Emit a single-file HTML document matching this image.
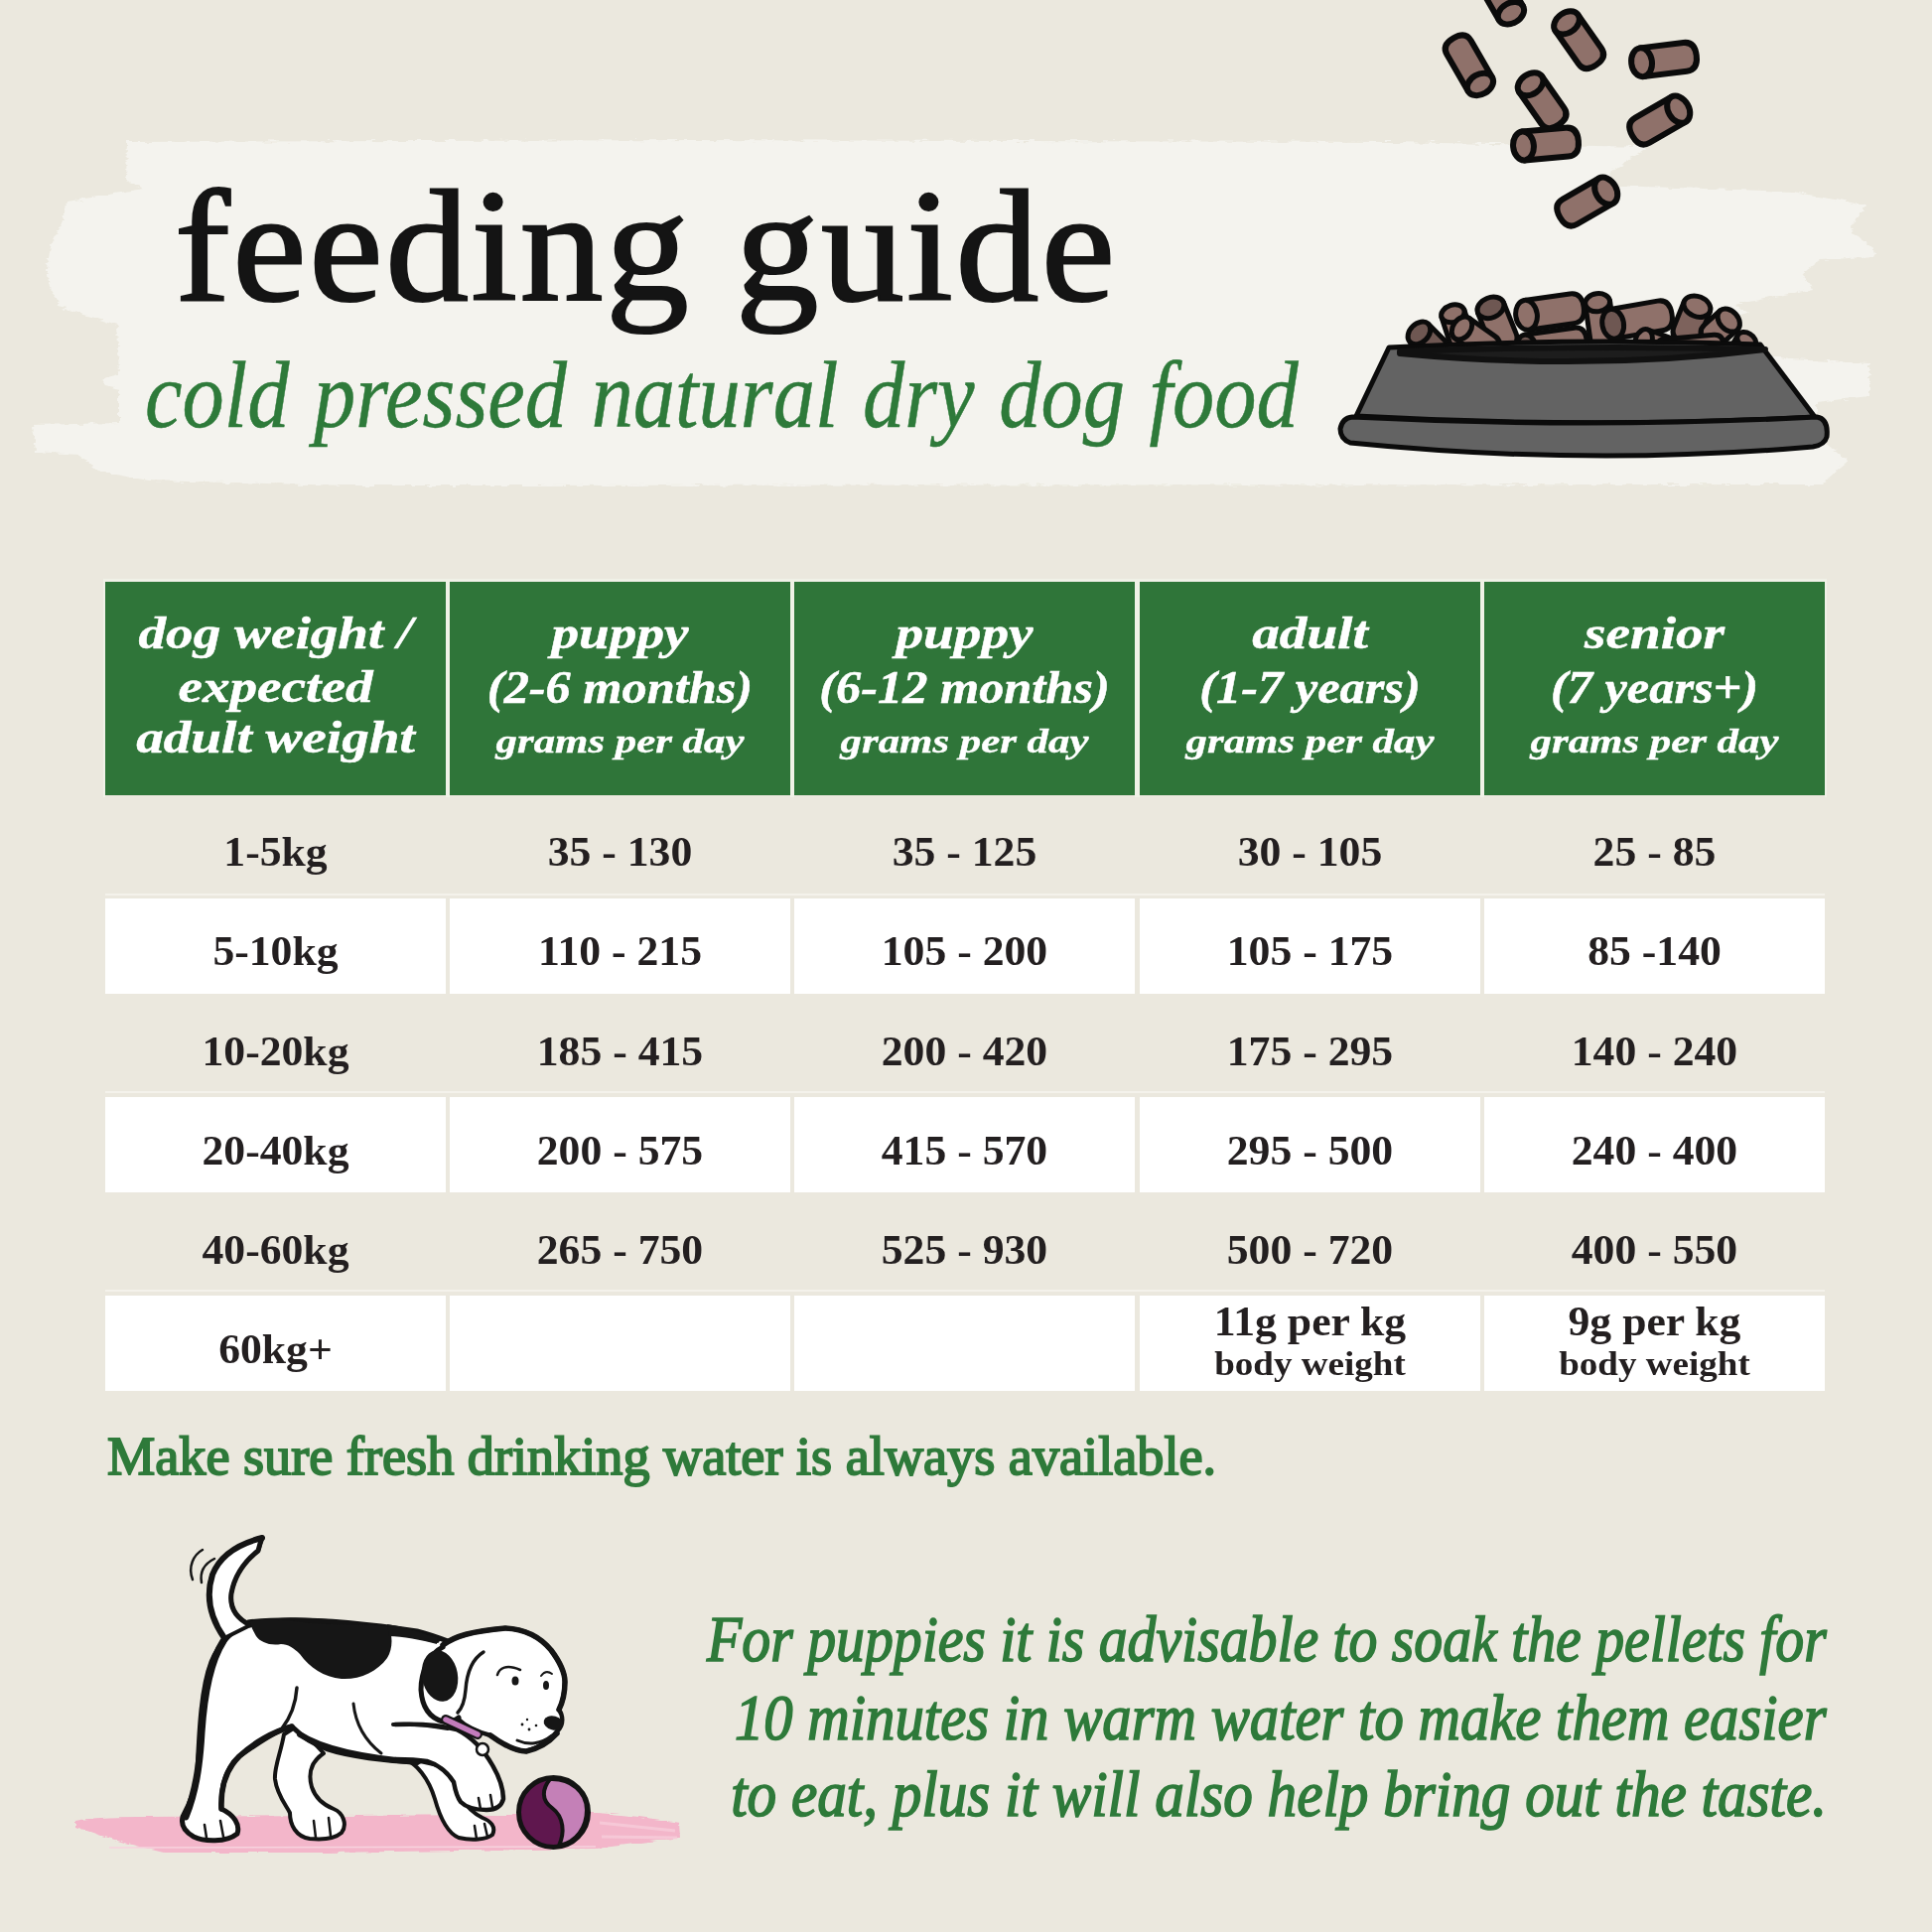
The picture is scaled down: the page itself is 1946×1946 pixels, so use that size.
<!DOCTYPE html>
<html><head><meta charset="utf-8">
<style>
html,body{margin:0;padding:0;}
body{width:1946px;height:1946px;overflow:hidden;background:#ebe8de;position:relative;font-family:"Liberation Serif",serif;}
.abs{position:absolute;white-space:nowrap;}
.bl{position:absolute;white-space:nowrap;line-height:1;margin-top:-0.83em;}
#title{left:176px;top:302px;font-size:161px;color:#141414;transform-origin:0 0;transform:scaleX(1.04);letter-spacing:2.5px;-webkit-text-stroke:2.2px #141414;}
#sub{left:146px;top:430px;font-size:95px;font-style:italic;color:#2e7a3a;transform-origin:0 0;transform:scaleX(0.889);word-spacing:4px;-webkit-text-stroke:0.5px #2e7a3a;}
.cell{position:absolute;width:343px;}
.green{background:#2f7539;}
.beige{background:#ebe8de;}
.white{background:#fff;}
.tx{position:absolute;width:343px;text-align:center;white-space:nowrap;line-height:1;margin-top:-0.83em;}
.hA{font-size:46px;font-weight:bold;font-style:italic;color:#fff;-webkit-text-stroke:0.5px #fff;transform:scaleX(1.2);}
.hP{font-size:46px;font-weight:bold;font-style:italic;color:#fff;-webkit-text-stroke:0.5px #fff;transform:scaleX(1.095);}
.hB{font-size:34px;font-weight:bold;font-style:italic;color:#fff;-webkit-text-stroke:0.4px #fff;transform:scaleX(1.26);}
.rT{font-size:42px;font-weight:bold;color:#231f20;transform:scaleX(1.04);}
.rS{font-size:34px;font-weight:bold;color:#231f20;transform:scaleX(1.09);}
#water{left:108px;top:1485px;font-size:54px;color:#2e7a3a;font-weight:normal;-webkit-text-stroke:1.9px #2e7a3a;transform-origin:0 0;transform:scaleX(1.004);}
.para{position:absolute;right:106px;font-size:66px;font-style:italic;font-weight:normal;-webkit-text-stroke:1.7px #2e7a3a;color:#2e7a3a;line-height:1;margin-top:-0.83em;white-space:nowrap;transform-origin:100% 0;transform:scaleX(0.89);}
</style></head>
<body>
<!-- brush stroke -->
<svg class="abs" style="left:0;top:0" width="1946" height="520" viewBox="0 0 1946 520">
<defs><filter id="rgh" x="-2%" y="-5%" width="104%" height="110%"><feTurbulence type="fractalNoise" baseFrequency="0.08 0.35" numOctaves="2" seed="7" result="n"/><feDisplacementMap in="SourceGraphic" in2="n" scale="7" xChannelSelector="R" yChannelSelector="G"/></filter></defs>
<path filter="url(#rgh)" fill="#f4f3ee" d="M128,145 L128,143 L700,141 L1400,143 L1659,148 L1620,175 L1625,187 L1806,193 L1879,207 L1864,228 L1866,234 L1885,248 L1889,258 L1834,262 L1816,275 L1826,291 L1787,299 L1748,307 L1761,315 L1700,340 L1803,362 L1883,366 L1883,399 L1830,405 L1830,440 L1862,464 L1852,472 L1835,488 L350,489 L150,484 L100,475 L80,458 L36,455 L33,428 L120,426 L120,392 L106,389 L104,381 L120,377 L118,327 L62,310 L50,290 L47,270 L52,244 L62,225 L68,203 L145,190 L127,182 Z"/>
</svg>

<div id="title" class="bl">feeding guide</div>
<div id="sub" class="bl">cold pressed natural dry dog food</div>

<!-- bowl -->
<svg class="abs" style="left:0;top:0" width="1946" height="520" viewBox="0 0 1946 520">
<g transform="translate(1512,-4) rotate(60) scale(-1,1)"><path d="M-19.9,-14.0 L18.8,-14.0 Q30.0,-14.0 30.0,0 Q30.0,14.0 18.8,14.0 L-19.9,14.0 Z" fill="#8f716a" stroke="#0b0b0b" stroke-width="6" stroke-linejoin="round"/><ellipse cx="-19.9" cy="0" rx="10.1" ry="14.0" fill="#8f716a" stroke="#0b0b0b" stroke-width="6"/></g>
<g transform="translate(1480,66) rotate(60) scale(-1,1)"><path d="M-21.9,-14.0 L20.8,-14.0 Q32.0,-14.0 32.0,0 Q32.0,14.0 20.8,14.0 L-21.9,14.0 Z" fill="#8f716a" stroke="#0b0b0b" stroke-width="6" stroke-linejoin="round"/><ellipse cx="-21.9" cy="0" rx="10.1" ry="14.0" fill="#8f716a" stroke="#0b0b0b" stroke-width="6"/></g>
<g transform="translate(1590,40) rotate(55)"><path d="M-20.9,-14.0 L19.8,-14.0 Q31.0,-14.0 31.0,0 Q31.0,14.0 19.8,14.0 L-20.9,14.0 Z" fill="#8f716a" stroke="#0b0b0b" stroke-width="6" stroke-linejoin="round"/><ellipse cx="-20.9" cy="0" rx="10.1" ry="14.0" fill="#8f716a" stroke="#0b0b0b" stroke-width="6"/></g>
<g transform="translate(1676,60) rotate(-7)"><path d="M-22.6,-14.5 L21.4,-14.5 Q33.0,-14.5 33.0,0 Q33.0,14.5 21.4,14.5 L-22.6,14.5 Z" fill="#8f716a" stroke="#0b0b0b" stroke-width="6" stroke-linejoin="round"/><ellipse cx="-22.6" cy="0" rx="10.4" ry="14.5" fill="#8f716a" stroke="#0b0b0b" stroke-width="6"/></g>
<g transform="translate(1553,101) rotate(55)"><path d="M-19.9,-14.0 L18.8,-14.0 Q30.0,-14.0 30.0,0 Q30.0,14.0 18.8,14.0 L-19.9,14.0 Z" fill="#8f716a" stroke="#0b0b0b" stroke-width="6" stroke-linejoin="round"/><ellipse cx="-19.9" cy="0" rx="10.1" ry="14.0" fill="#8f716a" stroke="#0b0b0b" stroke-width="6"/></g>
<g transform="translate(1557,145) rotate(-5)"><path d="M-22.6,-14.5 L21.4,-14.5 Q33.0,-14.5 33.0,0 Q33.0,14.5 21.4,14.5 L-22.6,14.5 Z" fill="#8f716a" stroke="#0b0b0b" stroke-width="6" stroke-linejoin="round"/><ellipse cx="-22.6" cy="0" rx="10.4" ry="14.5" fill="#8f716a" stroke="#0b0b0b" stroke-width="6"/></g>
<g transform="translate(1672,121) rotate(-30) scale(-1,1)"><path d="M-21.6,-14.5 L20.4,-14.5 Q32.0,-14.5 32.0,0 Q32.0,14.5 20.4,14.5 L-21.6,14.5 Z" fill="#8f716a" stroke="#0b0b0b" stroke-width="6" stroke-linejoin="round"/><ellipse cx="-21.6" cy="0" rx="10.4" ry="14.5" fill="#8f716a" stroke="#0b0b0b" stroke-width="6"/></g>
<g transform="translate(1599,203) rotate(-30) scale(-1,1)"><path d="M-21.6,-14.5 L20.4,-14.5 Q32.0,-14.5 32.0,0 Q32.0,14.5 20.4,14.5 L-21.6,14.5 Z" fill="#8f716a" stroke="#0b0b0b" stroke-width="6" stroke-linejoin="round"/><ellipse cx="-21.6" cy="0" rx="10.4" ry="14.5" fill="#8f716a" stroke="#0b0b0b" stroke-width="6"/></g>
<g>
<g transform="translate(1612,325) rotate(82)"><path d="M-20.5,-12.5 L19.5,-12.5 Q29.5,-12.5 29.5,0 Q29.5,12.5 19.5,12.5 L-20.5,12.5 Z" fill="#8f716a" stroke="#0b0b0b" stroke-width="5" stroke-linejoin="round"/><ellipse cx="-20.5" cy="0" rx="9.0" ry="12.5" fill="#8f716a" stroke="#0b0b0b" stroke-width="5"/></g>
<g transform="translate(1561,314) rotate(-8)"><path d="M-23.7,-15.0 L22.5,-15.0 Q34.5,-15.0 34.5,0 Q34.5,15.0 22.5,15.0 L-23.7,15.0 Z" fill="#8f716a" stroke="#0b0b0b" stroke-width="5" stroke-linejoin="round"/><ellipse cx="-23.7" cy="0" rx="10.8" ry="15.0" fill="#8f716a" stroke="#0b0b0b" stroke-width="5"/></g>
<g transform="translate(1649,322) rotate(-10)"><path d="M-24.7,-15.0 L23.5,-15.0 Q35.5,-15.0 35.5,0 Q35.5,15.0 23.5,15.0 L-24.7,15.0 Z" fill="#8f716a" stroke="#0b0b0b" stroke-width="5" stroke-linejoin="round"/><ellipse cx="-24.7" cy="0" rx="10.8" ry="15.0" fill="#6e5752" stroke="#0b0b0b" stroke-width="5"/></g>
<g transform="translate(1508,326) rotate(68)"><path d="M-17.4,-14.0 L16.3,-14.0 Q27.5,-14.0 27.5,0 Q27.5,14.0 16.3,14.0 L-17.4,14.0 Z" fill="#8f716a" stroke="#0b0b0b" stroke-width="5" stroke-linejoin="round"/><ellipse cx="-17.4" cy="0" rx="10.1" ry="14.0" fill="#6e5752" stroke="#0b0b0b" stroke-width="5"/></g>
<g transform="translate(1704,322) rotate(112)"><path d="M-14.4,-14.0 L13.3,-14.0 Q24.5,-14.0 24.5,0 Q24.5,14.0 13.3,14.0 L-14.4,14.0 Z" fill="#7d625c" stroke="#0b0b0b" stroke-width="5" stroke-linejoin="round"/><ellipse cx="-14.4" cy="0" rx="10.1" ry="14.0" fill="#8f716a" stroke="#0b0b0b" stroke-width="5"/></g>
<g transform="translate(1468,330) rotate(72)"><path d="M-14.9,-12.0 L13.9,-12.0 Q23.5,-12.0 23.5,0 Q23.5,12.0 13.9,12.0 L-14.9,12.0 Z" fill="#8f716a" stroke="#0b0b0b" stroke-width="5" stroke-linejoin="round"/><ellipse cx="-14.9" cy="0" rx="8.6" ry="12.0" fill="#8f716a" stroke="#0b0b0b" stroke-width="5"/></g>
<g transform="translate(1733,330) rotate(138)"><path d="M-11.1,-13.0 L10.1,-13.0 Q20.5,-13.0 20.5,0 Q20.5,13.0 10.1,13.0 L-11.1,13.0 Z" fill="#8f716a" stroke="#0b0b0b" stroke-width="5" stroke-linejoin="round"/><ellipse cx="-11.1" cy="0" rx="9.4" ry="13.0" fill="#8f716a" stroke="#0b0b0b" stroke-width="5"/></g>
<g transform="translate(1438,344) rotate(45)"><path d="M-12.1,-13.0 L11.1,-13.0 Q21.5,-13.0 21.5,0 Q21.5,13.0 11.1,13.0 L-12.1,13.0 Z" fill="#6e5752" stroke="#0b0b0b" stroke-width="5" stroke-linejoin="round"/><ellipse cx="-12.1" cy="0" rx="9.4" ry="13.0" fill="#6e5752" stroke="#0b0b0b" stroke-width="5"/></g>
<g transform="translate(1486,340) rotate(35)"><path d="M-16.5,-12.5 L15.5,-12.5 Q25.5,-12.5 25.5,0 Q25.5,12.5 15.5,12.5 L-16.5,12.5 Z" fill="#8f716a" stroke="#0b0b0b" stroke-width="5" stroke-linejoin="round"/><ellipse cx="-16.5" cy="0" rx="9.0" ry="12.5" fill="#8f716a" stroke="#0b0b0b" stroke-width="5"/></g>
<g transform="translate(1563,347) rotate(-8)"><path d="M-25.8,-13.5 L24.7,-13.5 Q35.5,-13.5 35.5,0 Q35.5,13.5 24.7,13.5 L-25.8,13.5 Z" fill="#8f716a" stroke="#0b0b0b" stroke-width="5" stroke-linejoin="round"/><ellipse cx="-25.8" cy="0" rx="9.7" ry="13.5" fill="#6e5752" stroke="#0b0b0b" stroke-width="5"/></g>
<g transform="translate(1670,348) rotate(20)"><path d="M-15.2,-11.5 L14.3,-11.5 Q23.5,-11.5 23.5,0 Q23.5,11.5 14.3,11.5 L-15.2,11.5 Z" fill="#8f716a" stroke="#0b0b0b" stroke-width="5" stroke-linejoin="round"/><ellipse cx="-15.2" cy="0" rx="8.3" ry="11.5" fill="#8f716a" stroke="#0b0b0b" stroke-width="5"/></g>
<g transform="translate(1702,351) rotate(-5)"><path d="M-26.2,-11.5 L25.3,-11.5 Q34.5,-11.5 34.5,0 Q34.5,11.5 25.3,11.5 L-26.2,11.5 Z" fill="#8f716a" stroke="#0b0b0b" stroke-width="5" stroke-linejoin="round"/><ellipse cx="-26.2" cy="0" rx="8.3" ry="11.5" fill="#8f716a" stroke="#0b0b0b" stroke-width="5"/></g>
<g transform="translate(1756,348) rotate(120)"><path d="M-6.3,-10.0 L5.5,-10.0 Q13.5,-10.0 13.5,0 Q13.5,10.0 5.5,10.0 L-6.3,10.0 Z" fill="#8f716a" stroke="#0b0b0b" stroke-width="5" stroke-linejoin="round"/><ellipse cx="-6.3" cy="0" rx="7.2" ry="10.0" fill="#8f716a" stroke="#0b0b0b" stroke-width="5"/></g>
</g>
<path d="M1399,350 Q1590,340 1773,347 L1828,420 Q1600,432 1366,419 Z" fill="#636363" stroke="#0b0b0b" stroke-width="5" stroke-linejoin="round"/>
<path d="M1410,354 Q1600,347 1778,352 Q1600,374 1410,356 Z" fill="#1d1d1d" stroke="#111" stroke-width="6" stroke-linejoin="round"/>
<path d="M1362,420 Q1600,432 1830,420 Q1842,422 1840,440 Q1838,448 1826,450 Q1600,470 1360,446 Q1350,442 1350,432 Q1352,421 1362,420 Z" fill="#636363" stroke="#0b0b0b" stroke-width="5" stroke-linejoin="round"/>
</svg>

<div style="position:absolute;left:104px;top:583px;width:1736px;height:220px;background:#f0f1e7"></div>
<!-- table cells -->
<div class="cell green" style="left:106px;top:586px;height:215px"></div>
<div class="cell green" style="left:453px;top:586px;height:215px"></div>
<div class="cell green" style="left:800px;top:586px;height:215px"></div>
<div class="cell green" style="left:1148px;top:586px;height:215px"></div>
<div class="cell green" style="left:1495px;top:586px;height:215px"></div>
<div class="cell beige" style="left:106px;top:801px;height:104px"></div>
<div class="cell beige" style="left:453px;top:801px;height:104px"></div>
<div class="cell beige" style="left:800px;top:801px;height:104px"></div>
<div class="cell beige" style="left:1148px;top:801px;height:104px"></div>
<div class="cell beige" style="left:1495px;top:801px;height:104px"></div>
<div class="cell white" style="left:106px;top:905px;height:96px"></div>
<div class="cell white" style="left:453px;top:905px;height:96px"></div>
<div class="cell white" style="left:800px;top:905px;height:96px"></div>
<div class="cell white" style="left:1148px;top:905px;height:96px"></div>
<div class="cell white" style="left:1495px;top:905px;height:96px"></div>
<div class="cell beige" style="left:106px;top:1001px;height:104px"></div>
<div class="cell beige" style="left:453px;top:1001px;height:104px"></div>
<div class="cell beige" style="left:800px;top:1001px;height:104px"></div>
<div class="cell beige" style="left:1148px;top:1001px;height:104px"></div>
<div class="cell beige" style="left:1495px;top:1001px;height:104px"></div>
<div class="cell white" style="left:106px;top:1105px;height:96px"></div>
<div class="cell white" style="left:453px;top:1105px;height:96px"></div>
<div class="cell white" style="left:800px;top:1105px;height:96px"></div>
<div class="cell white" style="left:1148px;top:1105px;height:96px"></div>
<div class="cell white" style="left:1495px;top:1105px;height:96px"></div>
<div class="cell beige" style="left:106px;top:1201px;height:104px"></div>
<div class="cell beige" style="left:453px;top:1201px;height:104px"></div>
<div class="cell beige" style="left:800px;top:1201px;height:104px"></div>
<div class="cell beige" style="left:1148px;top:1201px;height:104px"></div>
<div class="cell beige" style="left:1495px;top:1201px;height:104px"></div>
<div class="cell white" style="left:106px;top:1305px;height:96px"></div>
<div class="cell white" style="left:453px;top:1305px;height:96px"></div>
<div class="cell white" style="left:800px;top:1305px;height:96px"></div>
<div class="cell white" style="left:1148px;top:1305px;height:96px"></div>
<div class="cell white" style="left:1495px;top:1305px;height:96px"></div>
<!-- header text -->
<div class="tx hA" style="left:106px;top:653.4px">dog weight /</div>
<div class="tx hA" style="left:106px;top:706.8px">expected</div>
<div class="tx hA" style="left:106px;top:758.5px">adult weight</div>
<div class="tx hA" style="left:453px;top:653.4px">puppy</div>
<div class="tx hP" style="left:453px;top:708.6px">(2-6 months)</div>
<div class="tx hB" style="left:453px;top:758.5px">grams per day</div>
<div class="tx hA" style="left:800px;top:653.4px">puppy</div>
<div class="tx hP" style="left:800px;top:708.6px">(6-12 months)</div>
<div class="tx hB" style="left:800px;top:758.5px">grams per day</div>
<div class="tx hA" style="left:1148px;top:653.4px">adult</div>
<div class="tx hP" style="left:1148px;top:708.6px">(1-7 years)</div>
<div class="tx hB" style="left:1148px;top:758.5px">grams per day</div>
<div class="tx hA" style="left:1495px;top:653.4px">senior</div>
<div class="tx hP" style="left:1495px;top:708.6px">(7 years+)</div>
<div class="tx hB" style="left:1495px;top:758.5px">grams per day</div>
<!-- row text -->
<div class="tx rT" style="left:106px;top:872px">1-5kg</div>
<div class="tx rT" style="left:453px;top:872px">35 - 130</div>
<div class="tx rT" style="left:800px;top:872px">35 - 125</div>
<div class="tx rT" style="left:1148px;top:872px">30 - 105</div>
<div class="tx rT" style="left:1495px;top:872px">25 - 85</div>
<div class="tx rT" style="left:106px;top:972px">5-10kg</div>
<div class="tx rT" style="left:453px;top:972px">110 - 215</div>
<div class="tx rT" style="left:800px;top:972px">105 - 200</div>
<div class="tx rT" style="left:1148px;top:972px">105 - 175</div>
<div class="tx rT" style="left:1495px;top:972px">85 -140</div>
<div class="tx rT" style="left:106px;top:1073px">10-20kg</div>
<div class="tx rT" style="left:453px;top:1073px">185 - 415</div>
<div class="tx rT" style="left:800px;top:1073px">200 - 420</div>
<div class="tx rT" style="left:1148px;top:1073px">175 - 295</div>
<div class="tx rT" style="left:1495px;top:1073px">140 - 240</div>
<div class="tx rT" style="left:106px;top:1173px">20-40kg</div>
<div class="tx rT" style="left:453px;top:1173px">200 - 575</div>
<div class="tx rT" style="left:800px;top:1173px">415 - 570</div>
<div class="tx rT" style="left:1148px;top:1173px">295 - 500</div>
<div class="tx rT" style="left:1495px;top:1173px">240 - 400</div>
<div class="tx rT" style="left:106px;top:1273px">40-60kg</div>
<div class="tx rT" style="left:453px;top:1273px">265 - 750</div>
<div class="tx rT" style="left:800px;top:1273px">525 - 930</div>
<div class="tx rT" style="left:1148px;top:1273px">500 - 720</div>
<div class="tx rT" style="left:1495px;top:1273px">400 - 550</div>
<div class="tx rT" style="left:106px;top:1373px">60kg+</div>
<div class="tx rT" style="left:1148px;top:1345px">11g per kg</div>
<div class="tx rS" style="left:1148px;top:1385.5px">body weight</div>
<div class="tx rT" style="left:1495px;top:1345px">9g per kg</div>
<div class="tx rS" style="left:1495px;top:1385.5px">body weight</div>
<div style="position:absolute;left:106px;top:900px;width:1732px;height:2px;background:#f4f2eb"></div>

<div style="position:absolute;left:106px;top:1099px;width:1732px;height:2px;background:#f4f2eb"></div>

<div style="position:absolute;left:106px;top:1299px;width:1732px;height:2px;background:#f4f2eb"></div>

<svg class="abs" style="left:0;top:1500px" width="760" height="446" viewBox="0 1500 760 446">
<defs><filter id="rgh2" x="-2%" y="-20%" width="104%" height="140%"><feTurbulence type="fractalNoise" baseFrequency="0.05 0.4" numOctaves="2" seed="11" result="n"/><feDisplacementMap in="SourceGraphic" in2="n" scale="5" xChannelSelector="R" yChannelSelector="G"/></filter></defs>
<!-- pink brush -->
<path filter="url(#rgh2)" fill="#f3b6ca" d="M76,1834 Q95,1830 140,1830 L512,1828 L600,1826 Q645,1829 684,1836 L685,1851 Q640,1857 600,1862 L330,1866 L165,1866 Q120,1856 76,1840 Z"/>
<path fill="none" stroke="#f7d3de" stroke-width="1.5" d="M110,1861 L600,1860"/>
<path fill="none" stroke="#f6cdda" stroke-width="3" opacity="0.8" d="M604,1836 L680,1844 M606,1850 L682,1851"/>
<g stroke="#131313" stroke-linecap="round" stroke-linejoin="round" fill="#fff">
<!-- far rear leg -->
<path stroke-width="4" d="M300,1738 L286,1747 C283,1765 276,1780 277,1792 C279,1808 288,1818 292,1826 C292,1838 298,1850 312,1852 C322,1853 336,1853 344,1846 C350,1838 346,1826 336,1822 C326,1818 318,1812 314,1800 C310,1786 314,1774 326,1766 Z"/>
<!-- far front leg -->
<path stroke-width="4" d="M405,1770 C420,1776 432,1792 438,1812 C443,1830 450,1846 462,1851 C475,1854 490,1853 496,1848 C500,1840 494,1834 486,1831 C476,1826 470,1820 464,1810 L450,1780 Z"/>
<!-- torso with near rear leg -->
<path stroke-width="5" d="M250,1634 C300,1628 360,1634 420,1643 C440,1648 455,1655 470,1660 L472,1740 C450,1760 430,1772 420,1775 C390,1774 351,1769 330,1762 C312,1756 300,1745 294,1739 C280,1742 262,1754 241,1769 C228,1780 222,1800 223,1822 C236,1828 242,1838 239,1847 C228,1856 205,1855 195,1850 C186,1845 182,1838 184,1830 C192,1815 198,1800 199,1785 C201,1740 203,1700 213,1674 C220,1656 236,1640 250,1634 Z"/>
<!-- tail -->
<path stroke-width="4" d="M226,1650 C212,1630 206,1608 214,1585 C222,1566 242,1555 264,1549 C262,1554 262,1557 260,1562 C246,1573 236,1588 233,1605 C231,1620 238,1630 252,1637 Z"/>
<!-- raised front leg -->
<path stroke="none" d="M398,1737 C420,1736 445,1738 460,1742 C476,1750 488,1764 496,1778 C503,1790 507,1802 507,1812 C505,1820 498,1823 490,1823 C480,1823 470,1821 464,1815 C459,1808 458,1800 457,1795 C450,1784 440,1777 430,1774 C418,1772 405,1772 398,1772 Z"/><path fill="none" stroke-width="4.5" d="M398,1737 C420,1736 445,1738 460,1742 C476,1750 488,1764 496,1778 C503,1790 507,1802 507,1812 C505,1820 498,1823 490,1823 C480,1823 470,1821 464,1815 C459,1808 458,1800 457,1795 C450,1784 440,1777 430,1774 C418,1772 405,1772 398,1772"/>
<!-- head -->
<path stroke-width="4.5" d="M446,1657 C458,1648 475,1643 509,1640 C530,1641 545,1650 555,1662 C564,1674 569,1684 569,1694 C569,1705 567,1714 563,1722 C567,1728 568,1736 562,1743 C555,1752 548,1758 530,1764 C518,1764 505,1756 494,1748 C480,1744 470,1740 462,1732 C450,1715 444,1690 446,1657 Z"/>
<!-- ear flap -->
<path stroke="none" d="M440,1662 C430,1670 424,1686 425,1700 C426,1716 432,1730 446,1733 C458,1735 466,1726 470,1712 C473,1698 470,1680 462,1668 C456,1660 448,1658 440,1662 Z"/><path fill="none" stroke-width="5" d="M446,1659 C432,1666 424,1684 424,1702 C425,1718 432,1730 446,1734 C452,1735 458,1733 462,1730"/>
</g>
<g fill="none" stroke="#141414" stroke-linecap="round" stroke-linejoin="round">
<path d="M225,1653 C214,1670 206,1700 203,1745 C201,1780 197,1805 187,1830" stroke-width="7"/>
<path d="M294,1739 C275,1744 255,1756 241,1769 C228,1782 222,1800 223,1822" stroke-width="5.5"/>
<path d="M302,1747 C322,1760 360,1770 420,1775" stroke-width="6"/>
<path d="M252,1636 C300,1628 360,1634 440,1652" stroke-width="6"/>
<path d="M206,1838 L208,1851 M222,1834 L225,1850 M316,1834 L318,1851 M331,1831 L333,1849 M478,1839 L480,1852 M488,1837 L491,1850 M482,1811 L484,1822 M494,1808 L496,1820" stroke-width="2.5"/>
<path d="M226,1650 C212,1630 207,1608 214,1586 C222,1566 240,1555 264,1549" stroke-width="6"/>
<path d="M264,1549 C262,1554 261,1558 260,1562 C246,1573 236,1588 233,1605 C231,1620 238,1630 252,1637" stroke-width="5"/>
<path d="M446,1657 C458,1648 475,1643 509,1640 C530,1641 545,1650 555,1662 C564,1674 569,1684 569,1694 C569,1705 567,1714 563,1722" stroke-width="5.5"/>
<path d="M561,1746 C552,1756 540,1762 530,1764 C518,1764 505,1756 494,1748" stroke-width="5.5"/>
</g>
<!-- black patches -->
<g fill="#161616">
<path d="M252,1633 C270,1628 290,1632 312,1635 C340,1637 370,1636 390,1638 C396,1645 396,1660 390,1670 C380,1684 362,1692 344,1691 C326,1689 312,1680 302,1666 C296,1660 290,1656 283,1656 C272,1658 262,1654 258,1648 C255,1642 252,1638 252,1633 Z"/>
<path d="M390,1636 C405,1638 420,1643 440,1650 L440,1656 C425,1652 405,1648 392,1648 Z"/>
<ellipse cx="443" cy="1688" rx="18" ry="26" transform="rotate(-10 443 1688)"/>
<ellipse cx="557.5" cy="1735.5" rx="10" ry="7" transform="rotate(15 557.5 1735.5)"/>
<ellipse cx="519" cy="1693" rx="3.5" ry="4.5"/>
<ellipse cx="550" cy="1697.5" rx="3" ry="4.5"/>
</g>
<g fill="none" stroke="#161616" stroke-linecap="round">
<path d="M501,1687 C503,1680 510,1676 524,1682" stroke-width="2.5"/>
<path d="M545,1688 C548,1684 552,1683 556,1686" stroke-width="2"/>
<path d="M521,1753 C532,1758 545,1757 556,1748" stroke-width="3"/>
<path d="M487,1664 C474,1672 470,1688 469,1702 C468,1714 466,1720 461,1725" stroke-width="3.5"/>
<path d="M194,1591 C189,1578 195,1566 204,1561" stroke-width="2.5"/>
<path d="M203,1594 C201,1583 206,1575 216,1570" stroke-width="2.5"/>
<path d="M299,1700 C298,1715 294,1728 284,1741" stroke-width="3.5"/>
<path d="M356,1716 C358,1735 366,1752 384,1766" stroke-width="3"/>
<path d="M396,1737 C415,1736 435,1738 451,1741" stroke-width="4"/>
</g>
<g fill="#161616"><circle cx="526" cy="1737" r="1.4"/><circle cx="533" cy="1742" r="1.4"/><circle cx="540" cy="1738" r="1.3"/><circle cx="531" cy="1732" r="1.2"/></g>
<!-- collar -->
<path d="M449,1732 L481,1747" stroke="#131313" stroke-width="10" stroke-linecap="round"/>
<path d="M449,1732 L481,1747" stroke="#c27bbb" stroke-width="5.5" stroke-linecap="round"/>
<circle cx="486" cy="1762" r="6" fill="#fff" stroke="#131313" stroke-width="2.5"/>
<!-- ball -->
<circle cx="557.5" cy="1825.5" r="35" fill="#5f174e" stroke="#131313" stroke-width="5"/>
<path d="M554,1792 C546,1802 545,1813 556,1821 C568,1830 569,1846 563,1859 C581,1856 591,1840 591,1823 C591,1805 575,1791 554,1792 Z" fill="#c480b7" stroke="#131313" stroke-width="4"/>
</svg>


<div id="water" class="bl">Make sure fresh drinking water is always available.</div>

<div class="para" style="top:1673px;transform:scaleX(0.875)">For puppies it is advisable to soak the pellets for</div>
<div class="para" style="top:1752px;transform:scaleX(0.89)">10 minutes in warm water to make them easier</div>
<div class="para" style="top:1829px;transform:scaleX(0.896)">to eat, plus it will also help bring out the taste.</div>
</body></html>
